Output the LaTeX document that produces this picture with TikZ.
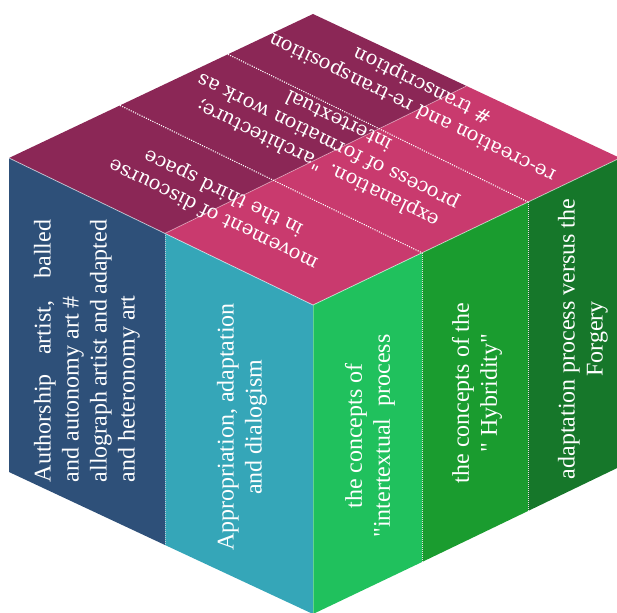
\documentclass[tikz,border=0pt]{standalone}
\usepackage{fontspec}
\setmainfont{Liberation Serif}
\newfontfamily\topfont{DejaVu Serif}
\definecolor{cpurple}{HTML}{8B2756}
\definecolor{cpink}{HTML}{C93A6E}
\definecolor{cblue}{HTML}{2E5079}
\definecolor{cteal}{HTML}{35A6B8}
\definecolor{cgone}{HTML}{20C15D}
\definecolor{cgtwo}{HTML}{1A9C2F}
\definecolor{cgthree}{HTML}{16772A}
\tikzset{
  sidetext/.style={text=white, font=\fontsize{24}{28}\selectfont, rotate=90, align=center, inner sep=0pt},
  toptext/.style={text=white, font=\topfont\fontsize{19.5}{24}\selectfont, rotate=154, align=center, inner sep=0pt},
  dotline/.style={white, line width=1.1pt, dash pattern=on 1.1pt off 1.3pt},
  edgeline/.style={white, opacity=0.6, line width=0.8pt},
}
\begin{document}
\begin{tikzpicture}[x=1pt,y=-1pt]
\useasboundingbox (0,0) rectangle (617,612);
\clip (0,0) rectangle (617,612);
% top face corners
\coordinate (L) at (9,158);
\coordinate (T) at (313,14);
\coordinate (R) at (620,158);
\coordinate (C) at (313,305);
\coordinate (LB) at (9,472);
\coordinate (CB) at (313,614);
\coordinate (ML) at (165,233.4);
\coordinate (MLB) at (165,545);
\coordinate (MR) at (466.5,86);
\coordinate (D1a) at (120,105.4);
\coordinate (D1b) at (422,252.8);
\coordinate (D2a) at (228,54.3);
\coordinate (D2b) at (528,202);
\coordinate (RT1) at (422,252.8);
\coordinate (RT2) at (528,202);
\coordinate (RT3) at (640,148.4);
\coordinate (RB1) at (422,562);
\coordinate (RB2) at (528,511);
\coordinate (RB3) at (640,457);
% faces
\fill[cpurple] (L) -- (T) -- (MR) -- (ML) -- cycle;
\fill[cpink] (ML) -- (MR) -- (R) -- (C) -- cycle;
\fill[cblue] (L) -- (ML) -- (MLB) -- (LB) -- cycle;
\fill[cteal] (ML) -- (C) -- (CB) -- (MLB) -- cycle;
\fill[cgone] (C) -- (RT1) -- (RB1) -- (CB) -- cycle;
\fill[cgtwo] (RT1) -- (RT2) -- (RB2) -- (RB1) -- cycle;
\fill[cgthree] (RT2) -- (RT3) -- (RB3) -- (RB2) -- cycle;
% edges
\draw[edgeline] (L) -- (C) -- (R);
\draw[edgeline, opacity=0.4] (ML) -- (MR);
\draw[edgeline, opacity=0.3] (C) -- (CB);
\draw[white!70!cblue, line width=0.8pt, dash pattern=on 1pt off 1pt] (ML) -- (MLB);
\draw[white!80!gray, line width=0.6pt, dash pattern=on 1pt off 1pt] (RT1) -- (RB1);
\draw[white!80!gray, line width=0.6pt, dash pattern=on 1pt off 1pt] (RT2) -- (RB2);
\draw[dotline] (D1a) -- (D1b);
\draw[dotline] (D2a) -- (D2b);
% side texts
\node[sidetext, text width=262pt, align=justify] (t1) at (87,351) {Authorship artist, balled and autonomy art \#\par allograph artist and adapted and heteronomy art};
\node[sidetext] (t2) at (242,427) {Appropriation, adaptation\\and dialogism};
\node[sidetext] (t3) at (370,436) {the concepts of\\\textquotedbl intertextual\ \ process};
\node[sidetext] (t4) at (477,393) {the concepts of the\\\textquotedbl\ Hybridity\textquotedbl};
\node[sidetext] (t5) at (583,339) {adaptation process versus the\\Forgery};
% top texts
\node[toptext] (s1) at (219,203) {movement of discourse\\in the third space};
\node[toptext] (s2) at (328,143) {explanation. \textquotedbl architecture;\\process of formation work as\\intertextual};
\node[toptext] (s3) at (418,96) {re-creation and re-transposition\\\# transcription};
\end{tikzpicture}
\end{document}
